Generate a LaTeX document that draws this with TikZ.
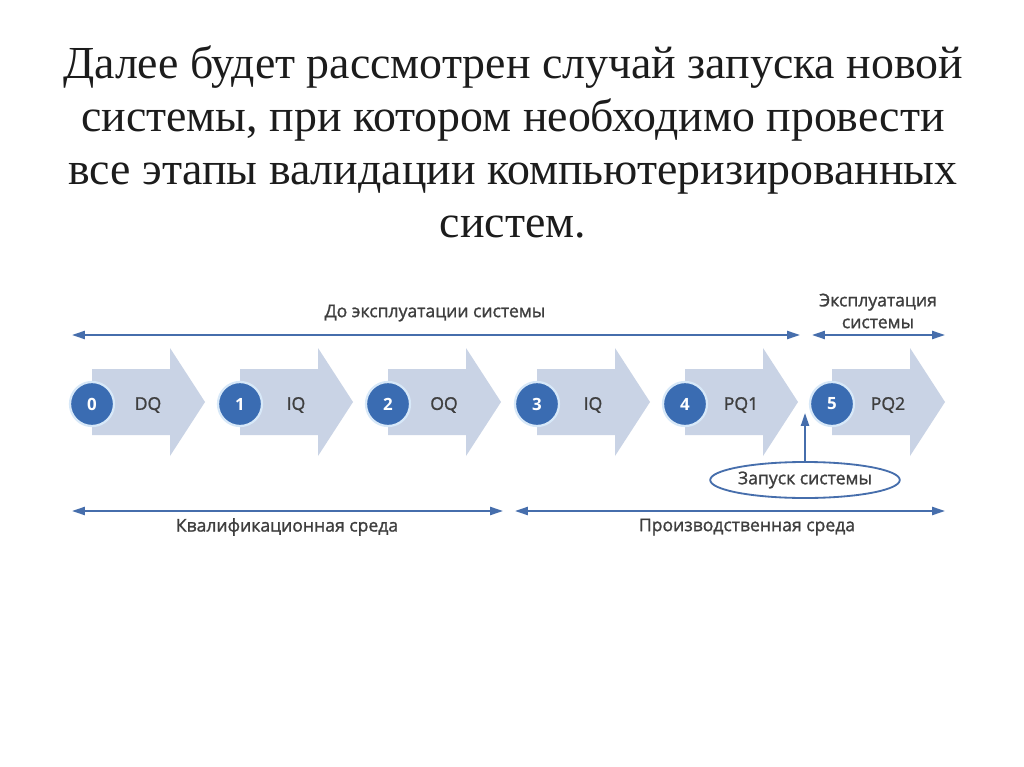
\documentclass[tikz,border=0pt]{standalone}
\usepackage{fontspec}
\setmainfont{Liberation Serif}
\newfontfamily\diafont[FakeBold=1.3]{Open Sans}
\newfontfamily\numfont{Open Sans}
\usetikzlibrary{arrows.meta,shapes.geometric,positioning}
\definecolor{stepfill} {RGB}{201,211,229}
\definecolor{numblue}  {RGB}{58,108,178}
\definecolor{ringblue} {RGB}{215,232,248}
\definecolor{lineblue} {RGB}{70,110,172}
\definecolor{labelgray}{RGB}{62,62,62}
\definecolor{titlegray}{RGB}{28,28,28}
\tikzset{
  numcirc/.style ={circle, fill=numblue, draw=ringblue, line width=1.6pt,
                   minimum size=1.1cm, inner sep=0pt, text=white,
                   font=\numfont\bfseries\fontsize{12}{14}\selectfont},
  steplab/.style ={text=labelgray, font=\diafont\fontsize{12.5}{14}\selectfont},
  phaselab/.style={text=labelgray, align=center,
                   font=\diafont\fontsize{12.5}{15.5}\selectfont},
  launch/.style  ={ellipse, draw=lineblue, line width=1.3pt, fill=white,
                   minimum width=4.5cm, minimum height=0.9cm, inner sep=0pt,
                   text=labelgray, font=\diafont\fontsize{12.5}{14}\selectfont},
  span/.style    ={{Triangle[length=0.32cm,width=0.2cm]}-{Triangle[length=0.32cm,width=0.2cm]},
                   draw=lineblue, line width=1.4pt},
  uparr/.style   ={-{Triangle[length=0.32cm,width=0.2cm]}, draw=lineblue, line width=1.4pt},
}
\begin{document}
\begin{tikzpicture}[x=0.025cm, y=-0.025cm]
  \useasboundingbox[fill=white] (0,0) rectangle (1024,767);

  % title
  \node[text=titlegray, align=center, font=\fontsize{32.6}{37.7}\selectfont] (title)
        at (513,142) {Далее будет рассмотрен случай запуска новой\\
                      системы, при котором необходимо провести\\
                      все этапы валидации компьютеризированных\\
                      систем.};

  % stages
  \foreach \n/\xc/\lab in {0/92/DQ,1/240/IQ,2/388/OQ,3/537/IQ,4/685/PQ1,5/832/PQ2}{
    \fill[stepfill] (\xc,369) -- (\xc+78,369) -- (\xc+78,348) -- (\xc+113,402)
                    -- (\xc+78,456) -- (\xc+78,435) -- (\xc,435) -- cycle;
    \node[numcirc] (c\n) at (\xc,404) {\n};
    \node[steplab] (s\n) at (\xc+56,405) {\lab};
  }

  % phases above
  \coordinate (preL) at (72,335);
  \coordinate (preR) at (800,335);
  \coordinate (opL)  at (812,335);
  \coordinate (opR)  at (945,335);
  \draw[span] (preL) -- (preR);
  \draw[span] (opL) -- (opR);
  \node[phaselab] (pre) at (435,313) {До эксплуатации системы};
  \node[phaselab] (op)  at (878,311) {Эксплуатация\\системы};

  % launch
  \node[launch] (start) at (805,480) {Запуск системы};
  \coordinate (startTip) at (805,413);
  \draw[uparr] (start.north) -- (startTip);

  % environments below
  \coordinate (qualL) at (72,511);
  \coordinate (qualR) at (503,511);
  \coordinate (prodL) at (515,511);
  \coordinate (prodR) at (945,511);
  \draw[span] (qualL) -- (qualR);
  \draw[span] (prodL) -- (prodR);
  \node[phaselab] (qual) at (287,527) {Квалификационная среда};
  \node[phaselab] (prod) at (747,527) {Производственная среда};
\end{tikzpicture}
\end{document}
